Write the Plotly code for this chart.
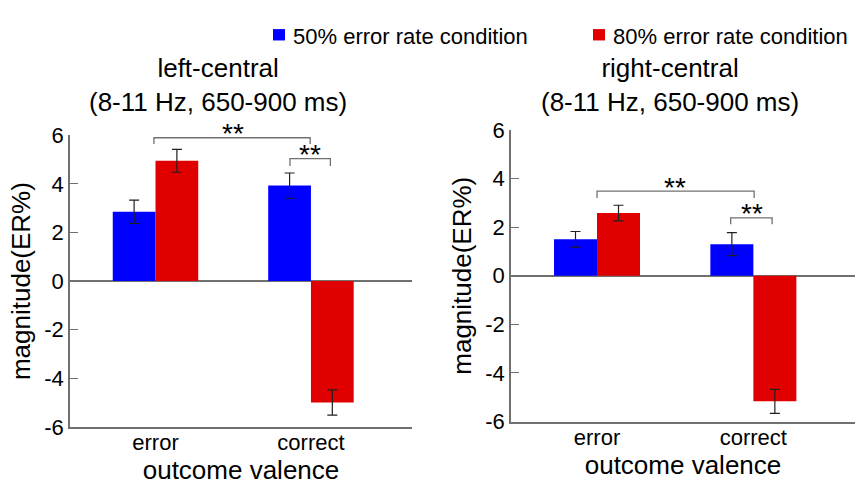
import plotly.graph_objects as go

# ---- data ----
categories = ["error", "correct"]
series_names = ["50% error rate condition", "80% error rate condition"]
left_50 = [2.85, 3.93]
left_50_err = [0.48, 0.52]
left_80 = [4.95, -5.0]
left_80_err = [0.47, 0.52]
right_50 = [1.50, 1.30]
right_50_err = [0.32, 0.47]
right_80 = [2.58, -5.17]
right_80_err = [0.32, 0.49]
y_ticks = [-6, -4, -2, 0, 2, 4, 6]
panel_titles = ["left-central", "right-central"]
panel_subtitle = "(8-11 Hz, 650-900 ms)"

BLUE = "#0000FF"
RED = "#E00000"
GRAY = "#707070"
FONT = "Arial, Liberation Sans, sans-serif"
W, H = 857, 487

xpos = list(range(len(categories)))

fig = go.Figure()

def add_bars(vals, errs, color, name, xa, ya):
    fig.add_trace(go.Bar(
        x=xpos, y=vals, name=name, marker=dict(color=color, line=dict(width=0)),
        error_y=dict(type="data", array=errs, visible=True, color="#202020",
                     thickness=1.2, width=5),
        xaxis=xa, yaxis=ya, showlegend=False, hoverinfo="skip"))

add_bars(left_50, left_50_err, BLUE, series_names[0], "x", "y")
add_bars(left_80, left_80_err, RED, series_names[1], "x", "y")
add_bars(right_50, right_50_err, BLUE, series_names[0], "x2", "y2")
add_bars(right_80, right_80_err, RED, series_names[1], "x2", "y2")

# significance brackets (x in category units, y in data units)
def bracket(x0, x1, ytop, leg, xa, ya):
    xs = [x0, x0, x1, x1]
    ys = [ytop - leg, ytop, ytop, ytop - leg]
    fig.add_trace(go.Scatter(x=xs, y=ys, mode="lines", line=dict(color=GRAY, width=1.3),
                             xaxis=xa, yaxis=ya, showlegend=False, hoverinfo="skip",
                             cliponaxis=False))

bracket(-0.01, 0.995, 5.9, 0.26, "x", "y")
bracket(0.865, 1.125, 5.04, 0.3, "x", "y")
bracket(0.0, 1.005, 3.48, 0.28, "x2", "y2")
bracket(0.855, 1.12, 2.38, 0.26, "x2", "y2")

annotations = []
def stars(x, y, xr, yr):
    annotations.append(dict(x=x, y=y, xref=xr, yref=yr, text="**", showarrow=False,
                            xanchor="center", yanchor="middle", yshift=4,
                            font=dict(family=FONT, size=28, color="black")))
stars(0.5, 5.9, "x", "y")
stars(0.995, 5.04, "x", "y")
stars(0.5, 3.48, "x2", "y2")
stars(0.99, 2.38, "x2", "y2")

# panel titles
for cx, title in zip([218, 670], panel_titles):
    annotations.append(dict(x=cx / W, y=1 - 77 / H, xref="paper", yref="paper",
                            text=title + "<br>" + panel_subtitle,
                            showarrow=False, xanchor="center", yanchor="middle", align="center",
                            font=dict(family=FONT, size=26, color="black")))

# legend (manual)
shapes = []
for sx, tx, color, name in [(273, 291, BLUE, series_names[0]), (593, 611, RED, series_names[1])]:
    shapes.append(dict(type="rect", xref="paper", yref="paper",
                       x0=sx / W, x1=(sx + 12) / W, y0=1 - 30 / H, y1=1 - 18 / H,
                       fillcolor=color, line=dict(width=0)))
    annotations.append(dict(x=tx / W, y=1 - 26 / H, xref="paper", yref="paper", text=name,
                            showarrow=False, xanchor="left", yanchor="middle",
                            font=dict(family=FONT, size=22, color="black")))

def xaxis_cfg(dom):
    return dict(domain=dom, range=[-0.55, 1.65], tickvals=xpos, ticktext=categories,
                showline=True, linecolor=GRAY, linewidth=1.5, ticks="", showgrid=False,
                zeroline=False, tickfont=dict(family=FONT, size=22, color="black"),
                ticklabelstandoff=-5,
                title=dict(text="outcome valence", font=dict(family=FONT, size=26, color="black"),
                           standoff=6))

def yaxis_cfg(dom):
    return dict(domain=dom, range=[-6, 6], tickvals=y_ticks, ticktext=[str(v) for v in y_ticks],
                showline=True, linecolor=GRAY, linewidth=1.5, ticks="inside", ticklen=8,
                tickcolor=GRAY, tickwidth=1.2, showgrid=False, zeroline=True,
                zerolinecolor=GRAY, zerolinewidth=1.5,
                tickfont=dict(family=FONT, size=22, color="black"),
                title=dict(text="magnitude(ER%)", font=dict(family=FONT, size=26, color="black"),
                           standoff=6))

fig.update_layout(
    width=W, height=H, margin=dict(l=0, r=0, t=0, b=0),
    paper_bgcolor="white", plot_bgcolor="white",
    barmode="group", bargap=0.45, bargroupgap=0,
    xaxis=dict(**xaxis_cfg([70 / W, 412 / W]), anchor="y"),
    yaxis=dict(**yaxis_cfg([(H - 437.3) / H, (H - 130) / H]), anchor="x"),
    xaxis2=dict(**xaxis_cfg([511 / W, 855 / W]), anchor="y2"),
    yaxis2=dict(**yaxis_cfg([(H - 431.7) / H, (H - 124.3) / H]), anchor="x2"),
    annotations=annotations, shapes=shapes, showlegend=False,
)

fig.write_html("out.html")
